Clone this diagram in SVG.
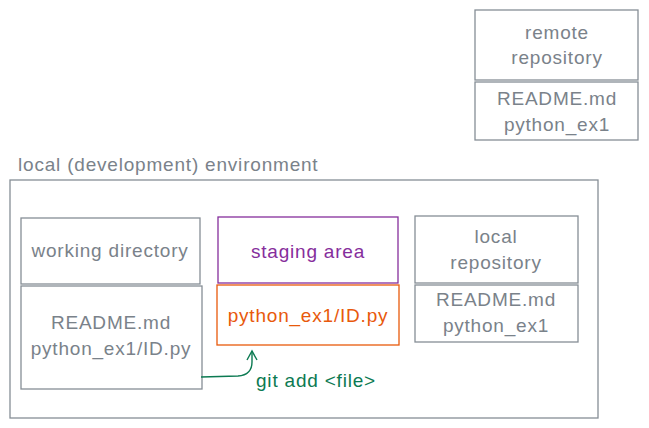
<svg xmlns="http://www.w3.org/2000/svg" width="649" height="428" viewBox="0 0 649 428">
<defs>
<style>
.box{fill:none;stroke:#868e96;stroke-width:1.3}
.t{font-family:"Liberation Sans",Arial,sans-serif;font-size:19px;letter-spacing:0.8px;fill:#7a828a;text-anchor:middle}
.purple{stroke:#862e9c}
.orange{stroke:#e8590c}
</style>
<marker id="ah" viewBox="0 0 12 12" refX="10" refY="6" markerWidth="12" markerHeight="12" orient="auto" markerUnits="userSpaceOnUse">
<path d="M1,1 L10,6 L1,11" fill="none" stroke="#0c7a52" stroke-width="1.4"/>
</marker>
</defs>
<rect width="649" height="428" fill="#ffffff"/>
<g id="remote">
<rect class="box" x="475" y="10" width="163" height="70"/>
<text class="t" x="557" y="39">remote</text>
<text class="t" x="557" y="64">repository</text>
<rect class="box" x="475" y="82" width="163" height="58"/>
<text class="t" x="557" y="105">README.md</text>
<text class="t" x="557" y="131">python_ex1</text>
</g>
<g id="local-env">
<rect class="box" x="10" y="180" width="588" height="238"/>
<text class="t" x="18" y="171" style="text-anchor:start">local (development) environment</text>
</g>
<g id="working-directory">
<rect class="box" x="21" y="218" width="179" height="66"/>
<text class="t" x="110" y="257">working directory</text>
<rect class="box" x="21" y="286" width="181" height="103"/>
<text class="t" x="111" y="329">README.md</text>
<text class="t" x="111" y="355">python_ex1/ID.py</text>
</g>
<g id="staging-area">
<rect class="box purple" x="218" y="217" width="180" height="66"/>
<text class="t" x="308" y="258" style="fill:#862e9c">staging area</text>
<rect class="box orange" x="217" y="285" width="182" height="60"/>
<text class="t" x="308" y="322" style="fill:#e8590c">python_ex1/ID.py</text>
</g>
<g id="local-repository">
<rect class="box" x="415" y="216" width="163" height="67"/>
<text class="t" x="496" y="243">local</text>
<text class="t" x="496" y="269">repository</text>
<rect class="box" x="415" y="285" width="163" height="57"/>
<text class="t" x="496" y="306">README.md</text>
<text class="t" x="496" y="332">python_ex1</text>
</g>
<g id="connectors">
<path d="M201,377 L238,376 Q252,375 252,362 L252,351" fill="none" stroke="#0c7a52" stroke-width="1.4" marker-end="url(#ah)"/>
<text class="t" x="256" y="387" style="text-anchor:start;fill:#0c7a52">git add &lt;file&gt;</text>
</g>
</svg>
